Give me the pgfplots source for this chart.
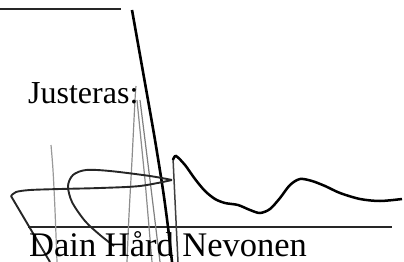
\documentclass[border=0pt]{standalone}
\usepackage{fontspec}
\setmainfont{Liberation Serif}
\usepackage{pgfplots}
\pgfplotsset{compat=1.18}
\begin{document}
\begin{tikzpicture}
\begin{axis}[
  width=404pt, height=262pt, scale only axis,
  xmin=0, xmax=404, ymin=0, ymax=262, y dir=reverse,
  hide axis, clip=false, enlargelimits=false,
]
% rules
\addplot[black!85, line width=1.3pt] coordinates {(0,9) (121,9)};
\addplot[black!85, line width=1.3pt] coordinates {(28,227) (392,227)};
% faint grey strokes
\addplot[black!40, line width=1.2pt, smooth] coordinates {(51,145) (53,170) (55,210) (57,262)};
\addplot[black!45, line width=1.2pt, smooth] coordinates {(136,86) (135,100) (132,160) (129,215) (127,262)};
\addplot[black!45, line width=1.2pt] coordinates {(137,100) (145,180) (152,262)};
\addplot[black!50, line width=1.2pt] coordinates {(140,100) (150,180) (160,262)};
% long thick diagonal
\addplot[black, line width=2.6pt, smooth] coordinates {(132,10) (140,55) (148,100) (155,140) (163,190) (168,227) (172,262)};
% left stroke and lower loop line
\addplot[black!85, line width=1.9pt] coordinates {(50,262) (11,196)};
\addplot[black!85, line width=1.9pt, smooth, tension=0.5] coordinates {(11,196) (16,192) (30,190) (60,189) (100,188) (140,186) (172,180)};
% upper loop
\addplot[black!85, line width=1.9pt, smooth] coordinates {(172,180) (150,176) (110,171) (86,170) (73,175) (68,186) (72,202) (85,221) (100,235) (114,246)};
% vertical from tip
\addplot[black!75, line width=1.5pt, smooth] coordinates {(173,158) (175,200) (178,262)};
% wave
\addplot[black, line width=2.5pt, smooth] coordinates {(173,160) (176,156) (185,165) (195,179) (205,191) (215,199) (225,203) (238,205) (250,210) (260,213) (270,209) (280,198) (290,185) (300,179) (312,181) (325,186) (340,193) (360,199) (380,201) (402,199)};
% texts
\node[anchor=base west, inner sep=0pt, font=\fontsize{32}{32}\selectfont] at (axis cs:28,103) {Justeras:};
\node[anchor=base west, inner sep=0pt, font=\fontsize{34.5}{34}\selectfont] at (axis cs:29,256) {Dain Hård Nevonen};
\end{axis}
\pgfresetboundingbox
\path (current axis.south west) rectangle (current axis.north east);
\end{tikzpicture}
\end{document}
